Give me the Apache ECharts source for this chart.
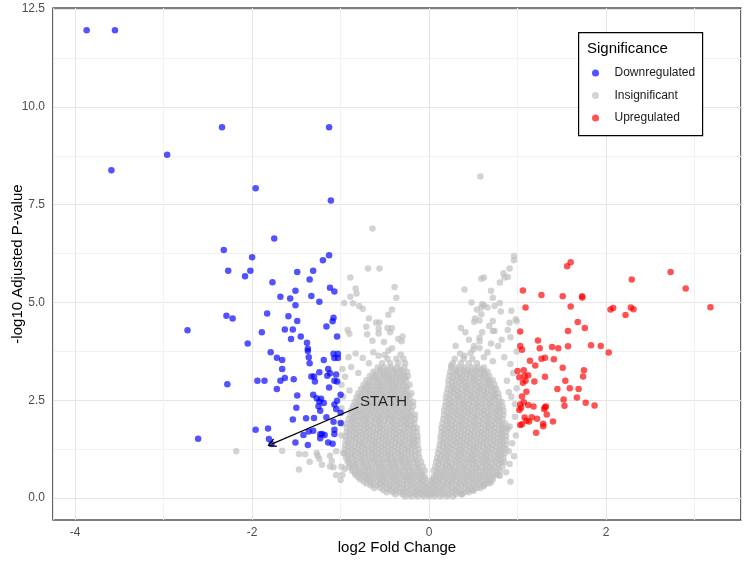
<!DOCTYPE html>
<html>
<head>
  <meta charset="utf-8">
  <script src="https://cdn.jsdelivr.net/npm/echarts@6/dist/echarts.min.js"></script>
  <style>
    body { margin: 0; }
    #chart { width: 750px; height: 563px; }
  </style>
</head>
<body>
  <div id="chart"></div>
  <script>
    // downregulated genes: [log2 fold change, -log10 adjusted p]
    const down = [
      [-3.87, 11.96], [-3.55, 11.96], [-2.34, 9.48], [-1.13, 9.48], [-2.96, 8.78], [-3.59, 8.38], [-1.96, 7.92],
      [-1.11, 7.61], [-1.75, 6.64], [-2.32, 6.34], [-2.0, 6.16], [-1.2, 6.08], [-1.13, 6.21], [-2.27, 5.81],
      [-2.02, 5.81], [-2.08, 5.67], [-1.49, 5.78], [-1.31, 5.81], [-1.35, 5.59], [-1.77, 5.52], [-1.51, 5.3],
      [-1.12, 5.38], [-1.07, 5.28], [-1.68, 5.15], [-1.57, 5.1], [-1.33, 5.17], [-1.51, 4.93], [-1.24, 5.02],
      [-2.29, 4.66], [-2.22, 4.59], [-1.83, 4.72], [-1.59, 4.65], [-1.49, 4.53], [-1.08, 4.61], [-1.09, 4.52],
      [-1.16, 4.39], [-2.73, 4.29], [-1.89, 4.24], [-1.63, 4.31], [-1.54, 4.31], [-1.56, 4.07], [-1.45, 4.13],
      [-1.04, 4.13], [-1.38, 3.97], [-2.05, 3.95], [-1.37, 3.82], [-1.79, 3.73], [-1.72, 3.59], [-1.66, 3.53],
      [-1.37, 3.76], [-1.36, 3.6], [-1.35, 3.45], [-1.08, 3.69], [-1.03, 3.69], [-1.07, 3.58], [-1.03, 3.58],
      [-1.19, 3.53], [-1.66, 3.3], [-1.94, 3.0], [-1.86, 3.0], [-2.28, 2.91], [-1.68, 3.0], [-1.63, 3.07],
      [-1.53, 3.04], [-1.33, 3.11], [-1.3, 3.11], [-1.29, 2.98], [-1.24, 3.22], [-1.14, 3.3], [-1.12, 3.19],
      [-1.15, 3.13], [-1.07, 3.0], [-1.04, 2.98], [-1.05, 3.16], [-1.13, 2.83], [-1.72, 2.79], [-1.49, 2.62],
      [-1.31, 2.64], [-1.27, 2.55], [-1.22, 2.54], [-1.19, 2.43], [-1.04, 2.49], [-1.0, 2.64], [-1.07, 2.39],
      [-1.05, 2.28], [-1.25, 2.35], [-1.23, 2.23], [-1.5, 2.31], [-1.54, 2.01], [-1.39, 2.04], [-1.3, 2.05],
      [-1.16, 2.07], [-1.0, 1.92], [-1.96, 1.75], [-1.82, 1.78], [-1.42, 1.61], [-1.36, 1.7], [-1.31, 1.72],
      [-1.23, 1.63], [-1.21, 1.64], [-1.18, 1.61], [-1.07, 1.75], [-1.07, 1.64], [-1.81, 1.51], [-1.78, 1.38],
      [-2.61, 1.52], [-1.51, 1.42], [-1.37, 1.36], [-1.14, 1.42], [-1.09, 1.39], [-1.0, 2.18], [-1.08, 1.95],
      [-1.23, 1.53], [-1.24, 2.47]
    ]

    // upregulated genes
    const up = [
      [1.6, 6.03], [1.56, 5.93], [2.29, 5.59], [2.73, 5.78], [2.9, 5.36], [1.06, 5.31], [1.27, 5.19], [1.51, 5.16],
      [1.73, 5.16], [1.73, 5.13], [3.18, 4.88], [1.09, 4.87], [1.6, 4.9], [2.05, 4.82], [2.08, 4.86], [2.28, 4.87],
      [2.31, 4.83], [2.22, 4.68], [1.68, 4.5], [1.76, 4.35], [1.57, 4.27], [1.03, 4.26], [1.23, 4.03], [1.03, 3.89],
      [1.05, 3.79], [1.25, 3.83], [1.39, 3.86], [1.46, 3.83], [1.57, 3.88], [1.83, 3.91], [1.94, 3.89], [2.03, 3.72],
      [1.14, 3.51], [1.27, 3.56], [1.31, 3.59], [1.41, 3.55], [1.2, 3.39], [1.51, 3.33], [1.75, 3.27], [1.74, 3.11],
      [1.0, 3.25], [1.07, 3.27], [1.02, 3.09], [1.08, 3.12], [1.12, 3.14], [1.06, 2.95], [1.09, 3.0], [1.19, 2.98],
      [1.31, 3.1], [1.54, 3.0], [1.45, 2.79], [1.59, 2.81], [1.69, 2.79], [1.1, 2.72], [1.05, 2.6], [1.52, 2.52],
      [1.67, 2.57], [1.53, 2.36], [1.77, 2.44], [1.87, 2.37], [1.07, 2.45], [1.03, 2.39], [1.04, 2.31], [1.02, 2.25],
      [1.12, 2.38], [1.18, 2.34], [1.31, 2.32], [1.32, 2.34], [1.3, 2.28], [1.33, 2.14], [1.08, 2.06], [1.16, 2.07],
      [1.22, 2.03], [1.1, 1.98], [1.13, 1.96], [1.03, 1.87], [1.05, 1.89], [1.29, 1.9], [1.29, 1.84], [1.4, 1.96],
      [1.21, 1.67]
    ]

    // insignificant genes outside the dense core
    const greySparse = [
      [-0.64, 6.89], [-0.69, 5.87], [-0.56, 5.87], [-0.89, 5.64], [-0.39, 5.4], [-0.83, 5.36], [-0.82, 5.23],
      [-0.89, 5.15], [-0.37, 5.12], [-0.96, 4.99], [-0.86, 4.98], [-0.79, 4.91], [-0.75, 4.84], [-0.42, 4.82],
      [-0.46, 4.69], [-0.68, 4.59], [-0.6, 4.49], [-0.56, 4.49], [-0.71, 4.38], [-0.57, 4.33], [-0.57, 4.21],
      [-0.47, 4.35], [-0.42, 4.35], [-0.44, 4.24], [-0.92, 4.3], [-0.9, 4.2], [-0.7, 4.19], [-0.64, 4.02],
      [-0.35, 4.07], [-0.3, 4.13], [-0.31, 4.01], [-0.51, 3.99], [-0.42, 3.83], [-0.46, 3.77], [-0.63, 3.73],
      [-0.57, 3.64], [-0.5, 3.66], [-0.83, 3.7], [-0.91, 3.6], [-0.32, 3.67], [-0.75, 3.58], [-0.98, 3.3],
      [-0.95, 3.1], [-0.88, 3.35], [-0.99, 2.9], [-0.97, 2.6], [-0.9, 2.75], [-0.68, 3.45], [-0.8, 3.2],
      [-0.99, 2.3], [-0.98, 1.9], [-0.99, 1.6], [-0.97, 1.15], [-0.99, 0.8],
      [-2.18, 1.2], [-1.66, 1.21], [-1.47, 1.13], [-1.4, 1.12], [-1.26, 1.08], [-1.47, 0.73], [-1.27, 1.15],
      [-1.24, 1.0], [-1.12, 1.08], [-1.12, 0.81], [-1.08, 0.79], [-1.35, 0.93], [-1.21, 0.85], [-1.05, 0.59],
      [-1.0, 0.46], [-1.05, 1.2], [-1.1, 0.95], [-0.98, 0.6], [-0.95, 0.75],
      [0.58, 8.22], [0.96, 6.19], [0.96, 6.08], [0.91, 5.87], [0.84, 5.75], [0.89, 5.65], [0.85, 5.64],
      [0.59, 5.61], [0.62, 5.64], [0.8, 5.51], [0.4, 5.33], [0.72, 5.12], [0.8, 4.99], [0.6, 4.96], [0.62, 4.93],
      [0.59, 4.87], [0.54, 4.82], [0.66, 4.87], [0.74, 4.91], [0.81, 4.77], [0.93, 4.79], [0.59, 4.7], [0.52, 4.59],
      [0.57, 4.54], [0.51, 4.51], [0.72, 4.53], [0.98, 4.57], [0.99, 4.52], [0.91, 4.48], [0.41, 4.24], [0.6, 4.24],
      [0.72, 4.27], [0.74, 4.27], [0.89, 4.3], [0.57, 4.1], [0.57, 4.01], [0.92, 4.11], [0.51, 3.89], [0.5, 3.8],
      [0.3, 3.89], [0.66, 3.73], [0.78, 3.89], [0.99, 3.75], [0.57, 3.84], [0.47, 3.71], [0.4, 3.64], [0.92, 3.43],
      [0.25, 3.39], [0.99, 2.81], [0.9, 2.71], [0.93, 2.59], [0.97, 2.08], [0.91, 1.83], [0.89, 1.77], [0.96, 1.07],
      [0.91, 0.87], [0.87, 0.66], [0.92, 0.42], [0.8, 0.57], [0.7, 0.4], [0.62, 0.31], [0.5, 0.19], [0.37, 0.1],
      [0.85, 3.6], [0.72, 3.5], [0.95, 3.2], [0.88, 3.0], [0.97, 2.4], [0.94, 1.4], [0.98, 1.6], [0.9, 1.2],
      [0.35, 3.7], [0.62, 3.6], [0.7, 3.95], [0.82, 4.05], [0.45, 4.05], [0.36, 4.35], [0.68, 4.4], [0.48, 5.0],
      [0.7, 5.3]
    ]

    // dense core of insignificant genes, one row per level: [-log10 padj, log2FC values...]
    const greyRows = [
      [0.04, -0.27, -0.2, -0.13, -0.06, 0, 0.06, 0.13, 0.2, 0.27],
      [0.1, -0.38, -0.3, -0.22, -0.15, -0.08, -0.02, 0.02, 0.08, 0.15, 0.22, 0.3, 0.37],
      [0.15, -0.48, -0.41, -0.33, -0.26, -0.18, -0.11, -0.04, 0.04, 0.11, 0.18, 0.26, 0.33, 0.4, 0.45],
      [0.21, -0.52, -0.44, -0.37, -0.29, -0.22, -0.14, -0.07, 0, 0.07, 0.14, 0.22, 0.29, 0.36, 0.44, 0.5],
      [0.26, -0.62, -0.55, -0.47, -0.4, -0.32, -0.25, -0.17, -0.1, -0.03, 0.03, 0.1, 0.17, 0.25, 0.32, 0.4, 0.47, 0.54, 0.58],
      [0.32, -0.66, -0.59, -0.51, -0.44, -0.36, -0.29, -0.21, -0.14, -0.07, 0, 0.07, 0.15, 0.22, 0.3, 0.37, 0.45, 0.52, 0.6],
      [0.37, -0.71, -0.64, -0.56, -0.49, -0.41, -0.34, -0.26, -0.19, -0.11, -0.04, 0.04, 0.11, 0.19, 0.26, 0.34, 0.41, 0.49, 0.56, 0.63, 0.67],
      [0.43, -0.74, -0.67, -0.59, -0.52, -0.44, -0.37, -0.29, -0.22, -0.14, -0.07, 0.02, 0.09, 0.16, 0.24, 0.31, 0.39, 0.46, 0.54, 0.61, 0.68],
      [0.48, -0.78, -0.7, -0.63, -0.55, -0.48, -0.4, -0.33, -0.25, -0.18, -0.1, -0.04, 0.05, 0.12, 0.2, 0.27, 0.35, 0.42, 0.5, 0.57, 0.65, 0.72],
      [0.54, -0.8, -0.72, -0.65, -0.57, -0.5, -0.42, -0.35, -0.27, -0.2, -0.12, -0.05, 0.05, 0.12, 0.19, 0.27, 0.34, 0.42, 0.49, 0.57, 0.64, 0.71],
      [0.59, -0.83, -0.75, -0.68, -0.6, -0.53, -0.45, -0.38, -0.3, -0.23, -0.15, -0.08, 0.08, 0.15, 0.23, 0.3, 0.38, 0.45, 0.53, 0.6, 0.68, 0.75, 0.78],
      [0.65, -0.84, -0.77, -0.69, -0.62, -0.54, -0.47, -0.39, -0.32, -0.24, -0.17, -0.09, 0.09, 0.16, 0.23, 0.31, 0.38, 0.46, 0.53, 0.61, 0.68, 0.76],
      [0.7, -0.87, -0.79, -0.72, -0.64, -0.57, -0.49, -0.42, -0.34, -0.27, -0.19, -0.12, -0.05, 0.05, 0.12, 0.19, 0.27, 0.34, 0.42, 0.49, 0.57, 0.64, 0.72, 0.8],
      [0.76, -0.87, -0.8, -0.72, -0.65, -0.57, -0.5, -0.42, -0.35, -0.27, -0.2, -0.12, 0.1, 0.18, 0.25, 0.33, 0.4, 0.48, 0.55, 0.63, 0.7, 0.78],
      [0.81, -0.9, -0.83, -0.75, -0.68, -0.6, -0.53, -0.45, -0.38, -0.3, -0.23, -0.15, -0.07, 0.07, 0.15, 0.23, 0.3, 0.38, 0.45, 0.53, 0.6, 0.68, 0.75, 0.83],
      [0.87, -0.89, -0.82, -0.74, -0.67, -0.59, -0.52, -0.44, -0.37, -0.29, -0.22, -0.13, 0.11, 0.19, 0.26, 0.34, 0.41, 0.49, 0.56, 0.64, 0.71, 0.79],
      [0.92, -0.92, -0.85, -0.77, -0.7, -0.62, -0.55, -0.47, -0.4, -0.32, -0.25, -0.17, -0.09, 0.08, 0.15, 0.22, 0.3, 0.37, 0.45, 0.52, 0.6, 0.67, 0.75, 0.82, 0.85],
      [0.98, -0.91, -0.83, -0.76, -0.68, -0.61, -0.53, -0.46, -0.38, -0.31, -0.23, -0.15, 0.12, 0.2, 0.28, 0.35, 0.43, 0.5, 0.58, 0.65, 0.73, 0.8],
      [1.03, -0.94, -0.87, -0.79, -0.72, -0.64, -0.57, -0.49, -0.42, -0.34, -0.27, -0.19, -0.11, 0.09, 0.17, 0.24, 0.32, 0.39, 0.47, 0.54, 0.62, 0.69, 0.77, 0.84],
      [1.09, -0.91, -0.84, -0.76, -0.69, -0.61, -0.54, -0.46, -0.39, -0.31, -0.24, -0.16, 0.14, 0.21, 0.29, 0.36, 0.44, 0.51, 0.59, 0.66, 0.74, 0.81],
      [1.14, -0.95, -0.88, -0.8, -0.73, -0.65, -0.58, -0.5, -0.43, -0.35, -0.28, -0.2, -0.12, 0.1, 0.18, 0.25, 0.33, 0.4, 0.48, 0.55, 0.63, 0.7, 0.78, 0.85],
      [1.2, -0.92, -0.84, -0.77, -0.69, -0.62, -0.54, -0.47, -0.39, -0.32, -0.24, -0.16, 0.15, 0.22, 0.3, 0.37, 0.45, 0.52, 0.6, 0.67, 0.75, 0.82],
      [1.25, -0.95, -0.87, -0.8, -0.72, -0.65, -0.57, -0.5, -0.42, -0.35, -0.27, -0.2, -0.12, 0.11, 0.19, 0.26, 0.34, 0.41, 0.49, 0.56, 0.64, 0.71, 0.79, 0.86],
      [1.31, -0.91, -0.84, -0.76, -0.69, -0.61, -0.54, -0.46, -0.39, -0.31, -0.24, -0.17, 0.16, 0.23, 0.31, 0.38, 0.46, 0.53, 0.61, 0.68, 0.76, 0.83],
      [1.36, -0.95, -0.88, -0.8, -0.73, -0.65, -0.58, -0.5, -0.43, -0.35, -0.28, -0.2, -0.13, 0.12, 0.2, 0.27, 0.35, 0.42, 0.5, 0.57, 0.65, 0.72, 0.8, 0.87],
      [1.42, -0.91, -0.83, -0.76, -0.68, -0.61, -0.53, -0.46, -0.38, -0.31, -0.23, -0.17, 0.16, 0.24, 0.31, 0.39, 0.46, 0.54, 0.61, 0.69, 0.76, 0.83],
      [1.47, -0.94, -0.87, -0.79, -0.72, -0.64, -0.57, -0.49, -0.42, -0.34, -0.27, -0.19, -0.13, 0.13, 0.2, 0.28, 0.35, 0.43, 0.5, 0.58, 0.65, 0.73, 0.8, 0.87],
      [1.53, -0.9, -0.83, -0.75, -0.68, -0.6, -0.53, -0.45, -0.38, -0.3, -0.23, -0.17, 0.17, 0.24, 0.32, 0.39, 0.47, 0.54, 0.62, 0.69, 0.77, 0.83],
      [1.58, -0.94, -0.86, -0.79, -0.71, -0.64, -0.56, -0.49, -0.41, -0.34, -0.26, -0.19, -0.13, 0.13, 0.21, 0.28, 0.36, 0.43, 0.51, 0.58, 0.66, 0.73, 0.81, 0.87],
      [1.64, -0.9, -0.82, -0.75, -0.67, -0.6, -0.52, -0.45, -0.37, -0.3, -0.22, 0.17, 0.25, 0.32, 0.4, 0.47, 0.55, 0.62, 0.7, 0.77, 0.83],
      [1.69, -0.93, -0.86, -0.78, -0.71, -0.63, -0.56, -0.48, -0.41, -0.33, -0.26, -0.18, -0.14, 0.14, 0.21, 0.29, 0.36, 0.44, 0.51, 0.59, 0.66, 0.74, 0.81, 0.87],
      [1.75, -0.89, -0.82, -0.74, -0.67, -0.59, -0.52, -0.44, -0.37, -0.29, -0.22, 0.18, 0.25, 0.33, 0.4, 0.48, 0.55, 0.63, 0.7, 0.78, 0.83],
      [1.8, -0.93, -0.85, -0.78, -0.7, -0.63, -0.55, -0.48, -0.4, -0.33, -0.25, -0.18, -0.14, 0.14, 0.22, 0.29, 0.37, 0.44, 0.52, 0.59, 0.67, 0.74, 0.82, 0.86],
      [1.86, -0.88, -0.81, -0.73, -0.66, -0.58, -0.51, -0.43, -0.36, -0.28, -0.21, 0.19, 0.26, 0.34, 0.41, 0.49, 0.56, 0.64, 0.71, 0.79],
      [1.91, -0.92, -0.85, -0.77, -0.7, -0.62, -0.55, -0.47, -0.4, -0.32, -0.25, -0.17, 0.15, 0.22, 0.3, 0.37, 0.45, 0.52, 0.6, 0.67, 0.75, 0.82, 0.86],
      [1.97, -0.87, -0.8, -0.72, -0.65, -0.57, -0.5, -0.42, -0.35, -0.27, -0.2, 0.2, 0.27, 0.35, 0.42, 0.5, 0.57, 0.65, 0.72, 0.79],
      [2.02, -0.91, -0.84, -0.76, -0.69, -0.61, -0.54, -0.46, -0.39, -0.31, -0.24, -0.16, 0.16, 0.23, 0.31, 0.38, 0.46, 0.53, 0.61, 0.68, 0.76, 0.83],
      [2.08, -0.86, -0.78, -0.71, -0.63, -0.56, -0.48, -0.41, -0.33, -0.26, -0.2, 0.21, 0.28, 0.36, 0.43, 0.51, 0.58, 0.66, 0.73, 0.8],
      [2.13, -0.89, -0.82, -0.74, -0.67, -0.59, -0.52, -0.44, -0.37, -0.29, -0.22, -0.16, 0.17, 0.24, 0.32, 0.39, 0.47, 0.54, 0.62, 0.69, 0.77, 0.84],
      [2.19, -0.84, -0.77, -0.69, -0.62, -0.54, -0.47, -0.39, -0.32, -0.24, 0.21, 0.29, 0.36, 0.44, 0.51, 0.59, 0.66, 0.74, 0.8],
      [2.24, -0.88, -0.8, -0.73, -0.65, -0.58, -0.5, -0.43, -0.35, -0.28, -0.2, 0.17, 0.25, 0.32, 0.4, 0.47, 0.55, 0.62, 0.7, 0.77, 0.84],
      [2.3, -0.83, -0.75, -0.68, -0.6, -0.53, -0.45, -0.38, -0.3, -0.23, 0.22, 0.29, 0.37, 0.44, 0.52, 0.59, 0.67, 0.74, 0.8],
      [2.35, -0.86, -0.79, -0.71, -0.64, -0.56, -0.49, -0.41, -0.34, -0.26, -0.18, 0.18, 0.25, 0.33, 0.4, 0.48, 0.55, 0.63, 0.7, 0.78, 0.83],
      [2.41, -0.81, -0.73, -0.66, -0.58, -0.51, -0.43, -0.36, -0.28, -0.22, 0.23, 0.3, 0.38, 0.45, 0.53, 0.6, 0.68, 0.75],
      [2.46, -0.84, -0.77, -0.69, -0.62, -0.54, -0.47, -0.39, -0.32, -0.24, -0.18, 0.19, 0.26, 0.34, 0.41, 0.49, 0.56, 0.64, 0.71, 0.79, 0.82],
      [2.52, -0.79, -0.71, -0.64, -0.56, -0.49, -0.41, -0.34, -0.26, 0.23, 0.31, 0.38, 0.46, 0.53, 0.61, 0.68, 0.75],
      [2.57, -0.82, -0.75, -0.67, -0.6, -0.52, -0.45, -0.37, -0.3, -0.22, 0.19, 0.27, 0.34, 0.42, 0.49, 0.57, 0.64, 0.72, 0.79],
      [2.63, -0.77, -0.69, -0.62, -0.54, -0.47, -0.39, -0.32, -0.24, 0.24, 0.32, 0.39, 0.47, 0.54, 0.62, 0.69, 0.74],
      [2.68, -0.8, -0.72, -0.65, -0.57, -0.5, -0.42, -0.35, -0.27, -0.2, 0.2, 0.28, 0.35, 0.43, 0.5, 0.58, 0.65, 0.73, 0.78],
      [2.74, -0.74, -0.67, -0.59, -0.52, -0.44, -0.37, -0.29, 0.25, 0.32, 0.4, 0.47, 0.55, 0.62, 0.7],
      [2.79, -0.77, -0.7, -0.62, -0.55, -0.47, -0.4, -0.32, -0.25, 0.21, 0.28, 0.36, 0.43, 0.51, 0.58, 0.66, 0.73, 0.76],
      [2.85, -0.71, -0.64, -0.56, -0.49, -0.41, -0.34, -0.26, 0.26, 0.33, 0.41, 0.48, 0.56, 0.63, 0.7],
      [2.9, -0.74, -0.67, -0.59, -0.52, -0.44, -0.37, -0.29, -0.22, 0.22, 0.29, 0.37, 0.44, 0.52, 0.59, 0.67, 0.74],
      [2.96, -0.68, -0.6, -0.53, -0.45, -0.38, -0.3, 0.26, 0.34, 0.41, 0.49, 0.56, 0.64, 0.69],
      [3.01, -0.71, -0.63, -0.56, -0.48, -0.41, -0.33, -0.26, 0.22, 0.3, 0.37, 0.45, 0.52, 0.6, 0.67, 0.72],
      [3.07, -0.64, -0.57, -0.49, -0.42, -0.34, -0.27, 0.27, 0.35, 0.42, 0.5, 0.57, 0.65],
      [3.12, -0.67, -0.6, -0.52, -0.45, -0.37, -0.3, -0.24, 0.23, 0.31, 0.38, 0.46, 0.53, 0.61, 0.68],
      [3.18, -0.6, -0.52, -0.45, -0.37, -0.29, 0.28, 0.35, 0.43, 0.5, 0.58, 0.63],
      [3.23, -0.63, -0.55, -0.48, -0.4, -0.33, -0.25, 0.24, 0.31, 0.39, 0.46, 0.54, 0.61, 0.66],
      [3.29, -0.55, -0.47, -0.4, -0.32, 0.3, 0.37, 0.44, 0.52, 0.59],
      [3.34, -0.58, -0.51, -0.43, -0.36, -0.28, 0.25, 0.33, 0.4, 0.48, 0.55, 0.62],
      [3.45, -0.53, -0.44, -0.35, -0.27, 0.27, 0.36, 0.45, 0.54],
      [3.56, -0.47, -0.37, -0.29, 0.29, 0.39, 0.49]
    ]

    const labelGene = 'STATH'
    const labelAt = [-0.78, 2.45]
    const arrowFrom = [-0.8, 2.33]
    const genePoint = [-1.78, 1.38]
    const yMajor = [0, 2.5, 5, 7.5, 10, 12.5]
    const yMinor = [1.25, 3.75, 6.25, 8.75, 11.25]

    const grey = greySparse.slice()
    greyRows.forEach(row => {
      row.slice(1).forEach(x => grey.push([x, row[0]]))
    })

    const font = 'Liberation Sans, Arial, sans-serif'
    const pointSeries = (name, data, color) => ({
      name,
      type: 'scatter',
      data,
      symbolSize: 6.5,
      itemStyle: { color, opacity: 0.68 },
      silent: true
    })

    const chart = echarts.init(document.getElementById('chart'))
    chart.setOption({
      animation: false,
      textStyle: { fontFamily: font },
      grid: {
        left: 53, right: 9, top: 8, bottom: 43,
        outerBoundsMode: 'none',
        containLabel: false,
        show: true, borderColor: '#000', borderWidth: 1.2, backgroundColor: 'transparent'
      },
      graphic: [{
        type: 'rect',
        left: 578, top: 32,
        shape: { width: 124, height: 103 },
        style: { fill: '#fff', stroke: '#000', lineWidth: 1.2 },
        z: 5
      }, {
        type: 'text',
        left: 587, top: 41,
        style: { text: 'Significance', fontSize: 15, fontFamily: font, fill: '#000' },
        z: 6
      }],
      legend: {
        data: ['Downregulated', 'Insignificant', 'Upregulated'],
        orient: 'vertical',
        left: 587, top: 62,
        itemWidth: 18, itemHeight: 7, itemGap: 10.5,
        icon: 'circle',
        textStyle: { fontSize: 12, color: '#1a1a1a', padding: [0, 0, 0, 5] },
        z: 7
      },
      xAxis: {
        type: 'value',
        min: -4.25, max: 3.525,
        splitNumber: 4,
        name: 'log2 Fold Change',
        nameLocation: 'middle',
        nameGap: 20,
        nameMoveOverlap: false,
        nameTextStyle: { fontSize: 15, color: '#000' },
        axisLine: { show: false },
        axisTick: { show: false },
        axisLabel: { color: '#4d4d4d', fontSize: 12, margin: 7, showMinLabel: false, showMaxLabel: false },
        splitLine: { lineStyle: { color: '#e5e5e5', width: 1 } },
        minorTick: { show: false, splitNumber: 2 },
        minorSplitLine: { show: true, lineStyle: { color: '#f2f2f2', width: 1 } }
      },
      yAxis: [{
        type: 'value',
        min: -0.56, max: 12.53,
        name: '-log10 Adjusted P-value',
        nameLocation: 'middle',
        nameGap: 28,
        nameMoveOverlap: false,
        nameTextStyle: { fontSize: 15, color: '#000' },
        axisLine: { show: false },
        axisTick: { show: false, customValues: yMajor },
        axisLabel: {
          color: '#4d4d4d', fontSize: 12, margin: 8,
          customValues: yMajor,
          formatter: v => v.toFixed(1)
        },
        splitLine: { lineStyle: { color: '#e5e5e5', width: 1 } }
      }, {
        type: 'value',
        min: -0.56, max: 12.53,
        position: 'left',
        axisLine: { show: false },
        axisTick: { show: false, customValues: yMinor },
        axisLabel: { show: false, customValues: yMinor },
        splitLine: { lineStyle: { color: '#f2f2f2', width: 1 } }
      }],
      series: [
        pointSeries('Insignificant', grey, '#bebebe'),
        pointSeries('Downregulated', down, '#0000ff'),
        pointSeries('Upregulated', up, '#ff0000'),
        {
          name: 'annotation',
          type: 'scatter',
          data: [labelAt],
          symbolSize: 0,
          silent: true,
          label: {
            show: true, position: 'right', distance: 0,
            formatter: labelGene, fontSize: 15, color: '#000'
          },
          markLine: {
            silent: true,
            symbol: ['none', 'path://M5,0L10,8L9,9.2L5,2.6L1,9.2L0,8Z'],
            symbolSize: [9, 9],
            lineStyle: { color: '#000', width: 1.2, type: 'solid' },
            label: { show: false },
            data: [[{ coord: arrowFrom }, { coord: genePoint }]]
          }
        }
      ]
    })
  </script>
</body>
</html>
